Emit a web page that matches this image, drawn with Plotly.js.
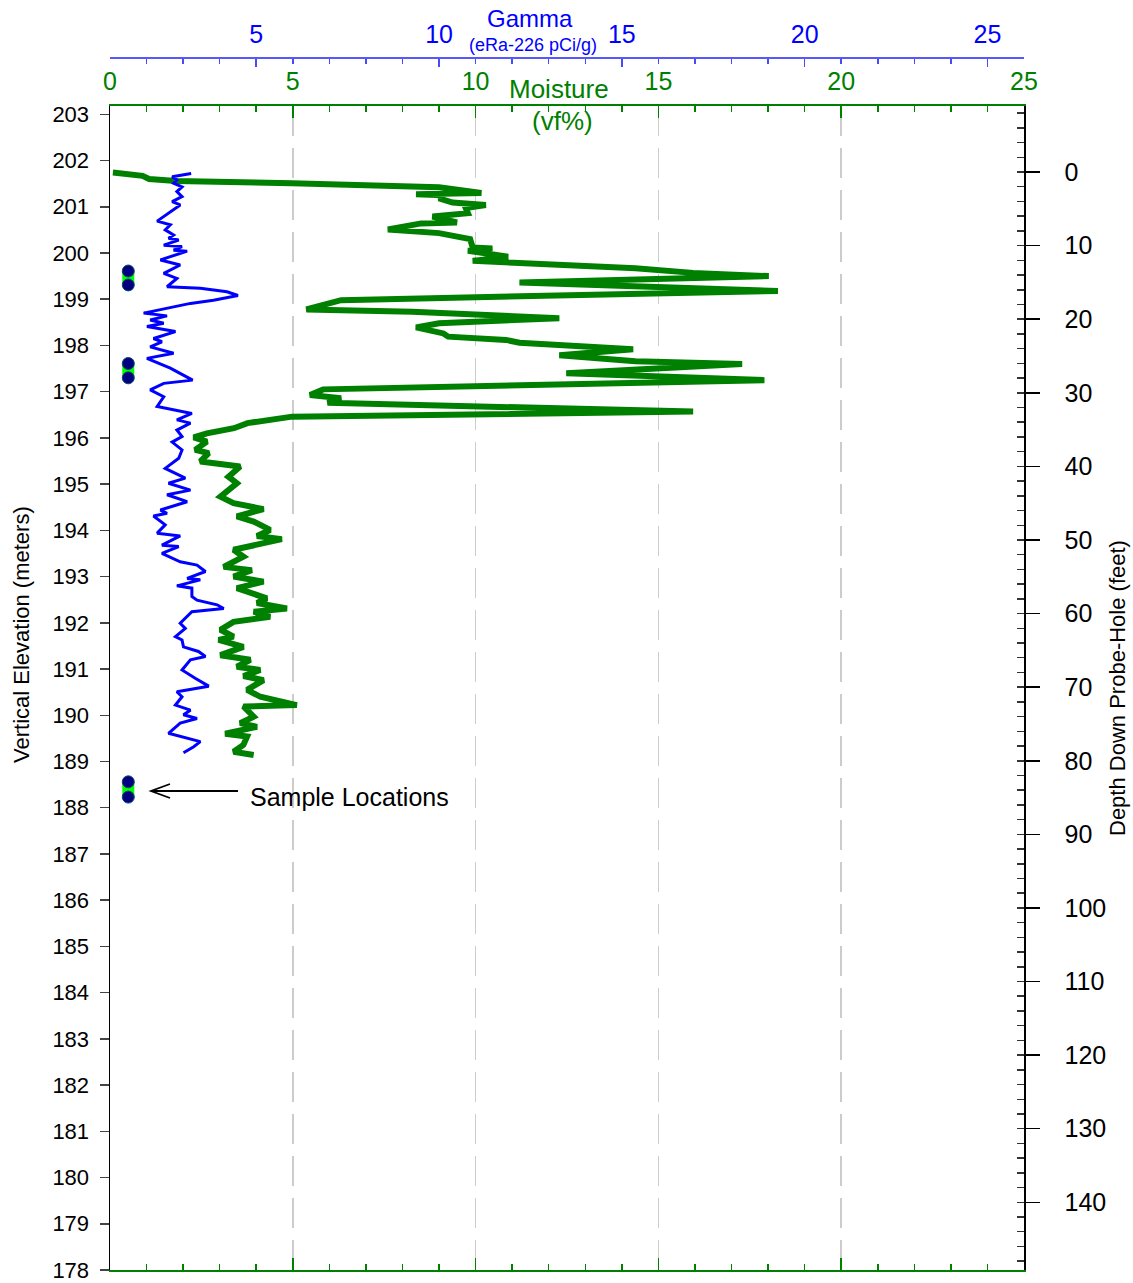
<!DOCTYPE html>
<html><head><meta charset="utf-8">
<script src="https://cdn.plot.ly/plotly-3.0.1.min.js"></script>
<style>body{margin:0;background:#fff}</style>
</head><body>
<div id="chart" style="width:1133px;height:1283px"></div>
<script>
// Moisture (vf%) log vs elevation (m)
const moistureElev = [201.74, 201.67, 201.60, 201.56, 201.51, 201.42, 201.30, 201.27, 201.25, 201.18, 201.09, 201.04, 200.97, 200.86, 200.79, 200.66, 200.64, 200.51, 200.43, 200.30, 200.12, 200.10, 200.05, 199.92, 199.83, 199.67, 199.57, 199.50, 199.36, 199.18, 198.98, 198.88, 198.78, 198.73, 198.59, 198.48, 198.39, 198.26, 198.19, 198.12, 198.06, 197.92, 197.79, 197.66, 197.60, 197.40, 197.25, 197.05, 196.93, 196.86, 196.76, 196.57, 196.46, 196.32, 196.21, 196.10, 196.01, 195.92, 195.74, 195.67, 195.49, 195.38, 195.16, 195.02, 194.73, 194.59, 194.46, 194.30, 194.19, 194.01, 193.88, 193.81, 193.58, 193.43, 193.21, 193.14, 193.00, 192.89, 192.75, 192.53, 192.43, 192.31, 192.24, 192.13, 192.02, 191.85, 191.70, 191.63, 191.48, 191.30, 191.20, 191.05, 190.98, 190.85, 190.76, 190.55, 190.40, 190.22, 190.19, 189.97, 189.83, 189.75, 189.60, 189.54, 189.36, 189.21, 189.14];
const moistureVf = [0.08, 0.89, 1.07, 1.81, 4.98, 9.00, 10.16, 8.37, 9.12, 9.00, 9.37, 10.28, 9.73, 9.79, 8.82, 9.49, 8.51, 7.60, 9.00, 9.85, 9.92, 10.46, 9.79, 10.89, 9.92, 14.37, 15.95, 18.02, 11.20, 18.27, 6.32, 5.89, 5.37, 8.27, 12.29, 9.00, 8.37, 9.12, 9.25, 10.83, 11.20, 14.31, 12.29, 14.37, 17.29, 12.48, 17.90, 5.83, 5.47, 6.32, 5.95, 15.95, 4.98, 3.76, 3.39, 2.65, 2.29, 2.65, 2.33, 2.70, 2.47, 3.56, 3.24, 3.47, 3.02, 3.38, 4.20, 3.47, 3.93, 4.38, 4.02, 4.70, 3.38, 3.65, 3.11, 3.88, 3.38, 4.20, 3.47, 4.29, 4.02, 4.84, 3.93, 4.38, 3.38, 3.02, 3.38, 2.97, 3.65, 3.02, 3.84, 3.47, 4.11, 3.65, 4.20, 3.75, 4.11, 5.11, 3.65, 3.93, 3.56, 4.02, 3.15, 3.75, 3.65, 3.38, 3.93];

// Gamma (eRa-226 pCi/g) log vs elevation (m)
const gammaElev = [201.72, 201.65, 201.58, 201.51, 201.43, 201.33, 201.22, 201.11, 201.04, 200.93, 200.69, 200.61, 200.50, 200.39, 200.32, 200.28, 200.17, 200.14, 200.06, 200.04, 199.85, 199.74, 199.56, 199.45, 199.27, 199.24, 199.16, 199.08, 198.98, 198.91, 198.70, 198.64, 198.55, 198.48, 198.41, 198.30, 198.15, 198.08, 197.97, 197.83, 197.72, 197.51, 197.25, 197.18, 197.04, 196.89, 196.68, 196.53, 196.39, 196.32, 196.17, 196.03, 195.91, 195.74, 195.56, 195.34, 195.13, 195.02, 194.87, 194.77, 194.62, 194.44, 194.37, 194.31, 194.12, 193.94, 193.88, 193.68, 193.65, 193.50, 193.32, 193.25, 193.11, 192.96, 192.93, 192.80, 192.75, 192.57, 192.49, 192.39, 192.31, 192.24, 191.99, 191.88, 191.70, 191.63, 191.48, 191.38, 191.27, 191.20, 190.98, 190.80, 190.63, 190.51, 190.40, 190.22, 190.11, 190.01, 189.93, 189.83, 189.61, 189.43, 189.32, 189.19];
const gammaPci = [3.22, 2.70, 2.83, 2.74, 2.97, 2.83, 2.97, 2.70, 2.92, 2.72, 2.29, 2.65, 2.51, 2.74, 2.60, 2.88, 2.47, 2.97, 2.74, 3.11, 2.38, 2.92, 2.47, 2.83, 2.56, 3.47, 4.20, 4.50, 3.83, 3.20, 1.92, 2.56, 2.10, 2.47, 2.01, 2.79, 2.19, 2.42, 2.10, 2.74, 2.01, 2.65, 3.26, 2.47, 2.10, 2.47, 2.29, 3.24, 2.83, 3.20, 2.83, 2.97, 2.70, 2.97, 2.88, 2.51, 3.06, 2.60, 3.20, 2.56, 3.11, 2.38, 2.56, 2.19, 2.51, 2.29, 2.92, 2.42, 2.88, 2.42, 2.92, 3.38, 3.61, 3.11, 3.47, 2.83, 3.24, 3.24, 3.38, 3.93, 4.11, 3.24, 2.92, 3.06, 2.79, 2.97, 3.01, 3.42, 3.61, 3.20, 2.97, 3.33, 3.70, 2.83, 2.97, 2.79, 3.20, 3.01, 3.38, 2.92, 2.60, 3.47, 3.29, 3.01];

// Sample locations (elevation, m) – pairs top/bottom
const sampleTopElev = [199.61, 197.61, 188.56];
const sampleBottomElev = [199.31, 197.30, 188.23];
const sampleMoisture = 0.5;

// Axis ranges
const elevRange = [178, 203.18];
const depthRange = [149.2, -8.97];
const moistureRange = [0, 25];
const gammaRange = [1, 26];

const FONT = 'Liberation Sans, Arial, sans-serif';
const GREEN = '#008000', BLUE = '#0000ff';

// pixel -> paper helpers (plot area 110..1024 x, 58..1270 y)
const L = 110, R = 109, T = 58, B = 13, W = 1133, H = 1283;
const px = v => (v - L) / (W - L - R);
const py = v => (H - B - v) / (H - T - B);

const traces = [];
// sample highlight bars
for (let i = 0; i < sampleTopElev.length; i++) {
  traces.push({x:[sampleMoisture, sampleMoisture], y:[sampleTopElev[i], sampleBottomElev[i]],
    xaxis:'x', yaxis:'y', mode:'lines', line:{color:'#00ff00', width:12}, showlegend:false, hoverinfo:'skip'});
}
traces.push({x: sampleTopElev.concat(sampleBottomElev).map(() => sampleMoisture),
  y: sampleTopElev.concat(sampleBottomElev), xaxis:'x', yaxis:'y', mode:'markers',
  marker:{size:12, color:'#000080', line:{color:'#0a4a6a', width:1}}, showlegend:false});
// gamma
traces.push({x: gammaPci, y: gammaElev, xaxis:'x2', yaxis:'y', mode:'lines',
  line:{color:BLUE, width:3}, showlegend:false});
// moisture
traces.push({x: moistureVf, y: moistureElev, xaxis:'x', yaxis:'y', mode:'lines',
  line:{color:GREEN, width:6}, showlegend:false});
// depth axis carrier
traces.push({x: [], y: [], xaxis:'x', yaxis:'y2', mode:'lines', showlegend:false});

const ann = (text, x, y, size, color, extra) => Object.assign({text, x:px(x), y:py(y), xref:'paper', yref:'paper',
  showarrow:false, font:{family:FONT, size, color}, xanchor:'center', yanchor:'middle'}, extra || {});

const layout = {
  width: W, height: H, margin:{l:L, r:R, t:T, b:B},
  paper_bgcolor:'#fff', plot_bgcolor:'#fff', showlegend:false,
  font:{family:FONT, color:'#000'},
  xaxis:{range:moistureRange, side:'top', anchor:'y', tick0:0, dtick:5, ticks:'inside', ticklen:12,
    tickwidth:1.5, tickcolor:GREEN, showline:true, linecolor:GREEN, linewidth:2, mirror:'ticks',
    minor:{tick0:0, dtick:1, ticks:'inside', ticklen:6, tickwidth:1.5, tickcolor:GREEN, showgrid:false},
    showgrid:true, gridcolor:'#cccccc', gridwidth:1.5, griddash:'30px,12px', zeroline:false,
    tickfont:{family:FONT, size:25, color:GREEN}, ticklabelstandoff:4},
  xaxis2:{range:gammaRange, overlaying:'x', side:'top', anchor:'free', position:1, tick0:0, dtick:5,
    ticks:'inside', ticklen:8, tickwidth:1.5, tickcolor:'#4848ff', showline:true, linecolor:'#5858ff', linewidth:2,
    minor:{tick0:0, dtick:1, ticks:'inside', ticklen:5, tickwidth:1.5, tickcolor:'#4848ff', showgrid:false},
    showgrid:false, zeroline:false, tickfont:{family:FONT, size:25, color:BLUE}, ticklabelstandoff:4},
  yaxis:{range:elevRange, domain:[0, py(106)], anchor:'x', dtick:1, tick0:178, ticks:'outside', ticklen:9,
    tickwidth:1.5, tickcolor:'#444', showline:true, linecolor:'#000', linewidth:1.5, showgrid:false,
    zeroline:false, tickfont:{family:FONT, size:22, color:'#000'}, ticklabelstandoff:6},
  yaxis2:{range:depthRange, overlaying:'y', side:'right', anchor:'x', tick0:0, dtick:10, ticks:'outside',
    ticklen:14, tickwidth:1.5, tickcolor:'#000', showline:true, linecolor:'#000', linewidth:1.5,
    minor:{tick0:0, dtick:2, ticks:'inside', ticklen:7, tickwidth:1.5, tickcolor:'#333', showgrid:false},
    showgrid:false, zeroline:false, tickfont:{family:FONT, size:25, color:'#000'}, ticklabelstandoff:20},
  annotations:[
    ann('Gamma', 530, 18, 24, BLUE),
    ann('(eRa-226 pCi/g)', 533, 45, 18, BLUE),
    ann('Moisture', 559, 89, 26, GREEN),
    ann('(vf%)', 562, 121, 26, GREEN),
    ann('Vertical Elevation (meters)', 21, 635, 22, '#000', {textangle:-90}),
    ann('Depth Down Probe-Hole (feet)', 1117, 688, 22, '#000', {textangle:-90}),
    ann('Sample Locations', 248, 797, 25, '#000', {xanchor:'left'})
  ],
  shapes:[
    {type:'path', xref:'paper', yref:'paper',
     path:`M ${px(238)} ${py(791)} L ${px(151)} ${py(791)} M ${px(170)} ${py(784)} L ${px(151)} ${py(791)} L ${px(170)} ${py(798)}`,
     line:{color:'#000', width:1.8}}
  ]
};

Plotly.newPlot('chart', traces, layout, {displayModeBar:false, staticPlot:true});
</script>
</body></html>
